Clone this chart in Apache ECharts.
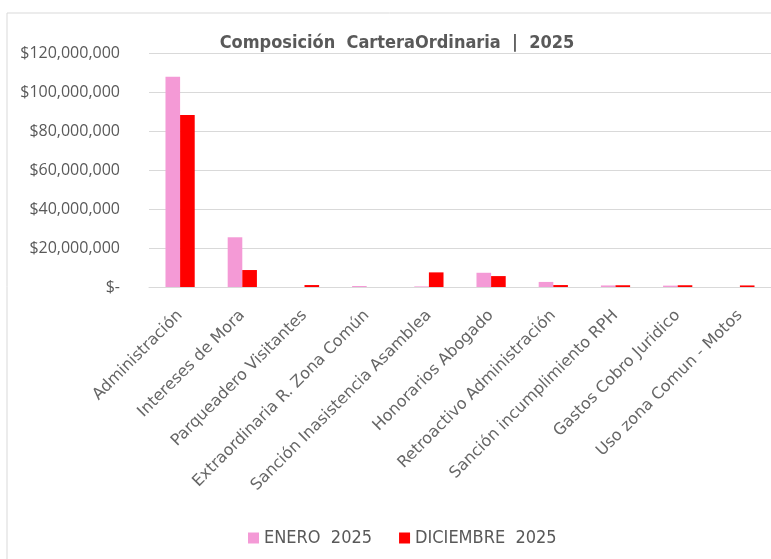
<!DOCTYPE html>
<html><head><meta charset="utf-8">
<script src="https://cdn.jsdelivr.net/npm/echarts@6/dist/echarts.min.js"></script>
<style>html,body{margin:0;padding:0;background:#fff}#c{width:771px;height:559px}</style>
</head><body><div id="c"></div>
<script>
const categories = ["Administración","Intereses de Mora","Parqueadero Visitantes","Extraordinaria R. Zona Común","Sanción Inasistencia Asamblea","Honorarios Abogado","Retroactivo Administración","Sanción incumplimiento RPH","Gastos Cobro Juridico","Uso zona Comun - Motos"];
const enero = [107800000, 25500000, 0, 500000, 300000, 7300000, 2600000, 800000, 700000, 0];
const diciembre = [88200000, 8700000, 1000000, 0, 7500000, 5600000, 1000000, 900000, 900000, 800000];
const seriesNames = ["ENERO  2025", "DICIEMBRE  2025"];
const titleText = "Composición  CarteraOrdinaria  |  2025";

const chart = echarts.init(document.getElementById('c'));
chart.setOption({
  animation: false,
  title: { text: titleText, left: 392, top: 29, textAlign: 'center',
    textStyle: { fontFamily: 'DejaVu Sans Condensed', fontSize: 18, fontWeight: 'bold', color: '#595959' } },
  graphic: [{ type: 'rect', shape: { x: 7, y: 13, width: 800, height: 600 },
    style: { fill: 'none', stroke: '#d9d9d9', lineWidth: 1 }, silent: true }],
  legend: { bottom: 7, left: 243, itemWidth: 11, itemHeight: 11, itemGap: 27, icon: 'rect',
    textStyle: { fontFamily: 'DejaVu Sans Condensed', fontSize: 18, color: '#595959' } },
  grid: { left: 149, right: -14, top: 53, bottom: 272, containLabel: false },
  xAxis: { type: 'category', data: categories,
    axisLine: { lineStyle: { color: '#d9d9d9' } }, axisTick: { show: false },
    axisLabel: { rotate: 45, interval: 0, fontFamily: 'DejaVu Sans', fontSize: 16, color: '#666666', margin: 26 } },
  yAxis: { type: 'value', min: 0, max: 120000000, interval: 20000000,
    axisLine: { show: false }, axisTick: { show: false },
    splitLine: { lineStyle: { color: '#d9d9d9' } },
    axisLabel: { fontFamily: 'Open Sans', fontSize: 16, color: '#595959', margin: 29,
      formatter: v => v === 0 ? '$-' : '$' + v.toLocaleString('en-US') } },
  series: [
    { name: seriesNames[0], type: 'bar', data: enero, itemStyle: { color: '#f49ad6' }, barGap: '0%', barCategoryGap: '53%' },
    { name: seriesNames[1], type: 'bar', data: diciembre, itemStyle: { color: '#ff0000' } }
  ]
});
</script></body></html>
